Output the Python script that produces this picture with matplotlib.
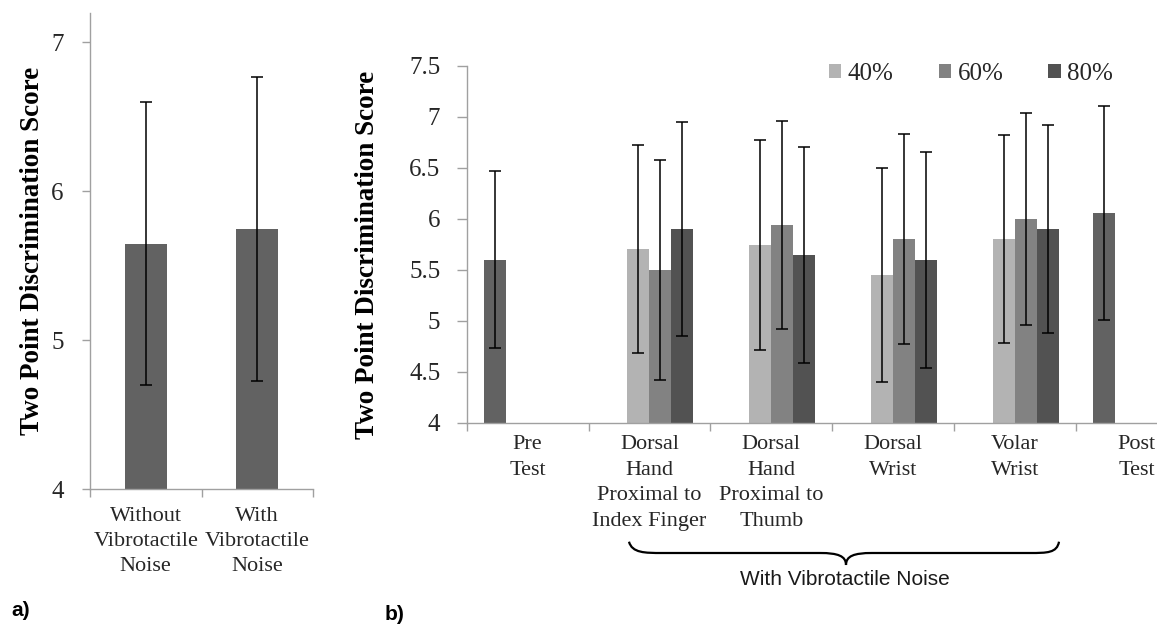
import numpy as np
import matplotlib
matplotlib.use('Agg')
import matplotlib.pyplot as plt
from matplotlib.path import Path
from matplotlib.patches import PathPatch

# ---------------- data ----------------
# panel a
cond_labels = ["Without\nVibrotactile\nNoise", "With\nVibrotactile\nNoise"]
cond_means = [5.65, 5.75]
cond_err = [0.95, 1.02]
a_yticks = [4, 5, 6, 7]

# panel b
loc_labels = ["Pre\nTest",
              "Dorsal\nHand\nProximal to\nIndex Finger",
              "Dorsal\nHand\nProximal to\nThumb",
              "Dorsal\nWrist",
              "Volar\nWrist",
              "Post\nTest"]
nan = np.nan
base_means = [5.60, nan, nan, nan, nan, 6.06]
base_err = [0.87, nan, nan, nan, nan, 1.05]
m40 = [nan, 5.70, 5.74, 5.45, 5.80, nan]
e40 = [nan, 1.02, 1.03, 1.05, 1.02, nan]
m60 = [nan, 5.50, 5.94, 5.80, 6.00, nan]
e60 = [nan, 1.08, 1.02, 1.03, 1.04, nan]
m80 = [nan, 5.90, 5.65, 5.60, 5.90, nan]
e80 = [nan, 1.05, 1.06, 1.06, 1.02, nan]
series_names = ["40%", "60%", "80%"]
b_yticks = [4, 4.5, 5, 5.5, 6, 6.5, 7, 7.5]

# ---------------- style ----------------
SERIF = ['Liberation Serif', 'DejaVu Serif']
SANS = ['Liberation Sans', 'DejaVu Sans']
plt.rcParams['font.family'] = SERIF
SPINE = '#a0a0a0'
TXT = '#262626'
C_BASE = '#626262'
C40, C60, C80 = '#b3b3b3', '#828282', '#525252'

W, H = 1157, 628
fig = plt.figure(figsize=(W / 100, H / 100), dpi=100)


def fx(px):
    return px / W


def fy(py):
    return 1 - py / H


def style_axes(ax, ylab_size, ypad, ylen, xpad):
    for s in ['top', 'right']:
        ax.spines[s].set_visible(False)
    for s in ['left', 'bottom']:
        ax.spines[s].set_color(SPINE)
        ax.spines[s].set_linewidth(1.0)
    ax.tick_params(axis='y', which='major', direction='out', length=ylen, width=1.0,
                   color=SPINE, pad=ypad, labelsize=ylab_size, labelcolor=TXT)
    ax.tick_params(axis='x', which='major', length=0, pad=xpad, labelsize=16, labelcolor=TXT)
    ax.tick_params(axis='x', which='minor', direction='out', length=6, width=1.0, color=SPINE)


# ---------------- panel a ----------------
axA = fig.add_axes([fx(90), fy(489.3), fx(313) - fx(90), (489.3 - 12.7) / H])
xa = np.arange(len(cond_labels))
axA.bar(xa, cond_means, width=0.38, color=C_BASE, zorder=2)
axA.errorbar(xa, cond_means, yerr=cond_err, fmt='none', ecolor='black',
             elinewidth=1.1, capsize=4, capthick=1.1, zorder=3)
axA.set_yticks(a_yticks)
axA.set_yticklabels([f"{v:g}" for v in a_yticks])
axA.set_xticks(xa)
axA.set_xticklabels(cond_labels, linespacing=1.4)
axA.set_xticks(np.arange(-0.5, len(cond_labels)), minor=True)
axA.set_xlim(-0.5, len(cond_labels) - 0.5)
axA.set_ylim(4, 7.2)
style_axes(axA, 18, 13, 6, 13)

# ---------------- panel b ----------------
axB = fig.add_axes([fx(466.7), fy(422.7), 1 - fx(466.7), (422.7 - 66) / H])
xb = np.arange(len(loc_labels))
bw = 0.18
all_means = [base_means, m40, m60, m80]
all_err = [base_err, e40, e60, e80]
colors = [C_BASE, C40, C60, C80]
handles = []
for k, (mm, ee, cc) in enumerate(zip(all_means, all_err, colors)):
    pos = xb + (k - 1.5) * bw
    bars = axB.bar(pos, mm, width=bw, color=cc, zorder=2)
    axB.errorbar(pos, mm, yerr=ee, fmt='none', ecolor='black',
                 elinewidth=1.1, capsize=4, capthick=1.1, zorder=3)
    if k > 0:
        handles.append(bars)
axB.set_yticks(b_yticks)
axB.set_yticklabels([f"{v:g}" for v in b_yticks])
axB.set_xticks(xb)
axB.set_xticklabels(loc_labels, linespacing=1.47)
axB.set_xticks(np.arange(-0.5, len(loc_labels)), minor=True)
axB.set_xlim(-0.5, -0.5 + (W - 466.7) / 121.8)
axB.set_ylim(4, 7.5)
style_axes(axB, 18, 12, 7, 9)

leg = fig.legend(handles, series_names, loc='center', ncol=3,
                 bbox_to_anchor=(fx(971), fy(74)), bbox_transform=fig.transFigure,
                 frameon=False, fontsize=18, handlelength=0.51, handleheight=0.51,
                 handletextpad=0.25, columnspacing=1.8, borderpad=0.2)
for t in leg.get_texts():
    t.set_color(TXT)

# axis titles
fig.text(fx(33), fy(251), "Two Point Discrimination Score", rotation=90,
         ha='center', va='center', fontsize=19.5, fontweight='bold', color='black')
fig.text(fx(367), fy(255), "Two Point Discrimination Score", rotation=90,
         ha='center', va='center', fontsize=19.5, fontweight='bold', color='black')

# brace under the vibrotactile conditions
pts = [(629, 541.7), (632, 553), (645, 553), (662, 553),
       (820, 553),
       (838, 553), (846, 556), (846, 565),
       (846, 556), (854, 553), (872, 553),
       (1030, 553),
       (1047, 553), (1057, 553), (1059, 541.7)]
codes = [Path.MOVETO, Path.CURVE4, Path.CURVE4, Path.CURVE4,
         Path.LINETO,
         Path.CURVE4, Path.CURVE4, Path.CURVE4,
         Path.CURVE4, Path.CURVE4, Path.CURVE4,
         Path.LINETO,
         Path.CURVE4, Path.CURVE4, Path.CURVE4]
brace = Path([(fx(x), fy(y)) for x, y in pts], codes)
fig.add_artist(PathPatch(brace, transform=fig.transFigure, facecolor='none',
                         edgecolor='black', linewidth=1.6))
fig.text(fx(845), fy(585), "With Vibrotactile Noise", ha='center', va='baseline',
         fontsize=15, family=SANS, color='#1a1a1a')

# panel letters
fig.text(fx(11), fy(610), "a)", ha='left', va='center', fontsize=15,
         fontweight='bold', family=SANS, color='black')
fig.text(fx(385), fy(615), "b)", ha='left', va='center', fontsize=15,
         fontweight='bold', family=SANS, color='black')

fig.savefig('out.png', dpi=100)
